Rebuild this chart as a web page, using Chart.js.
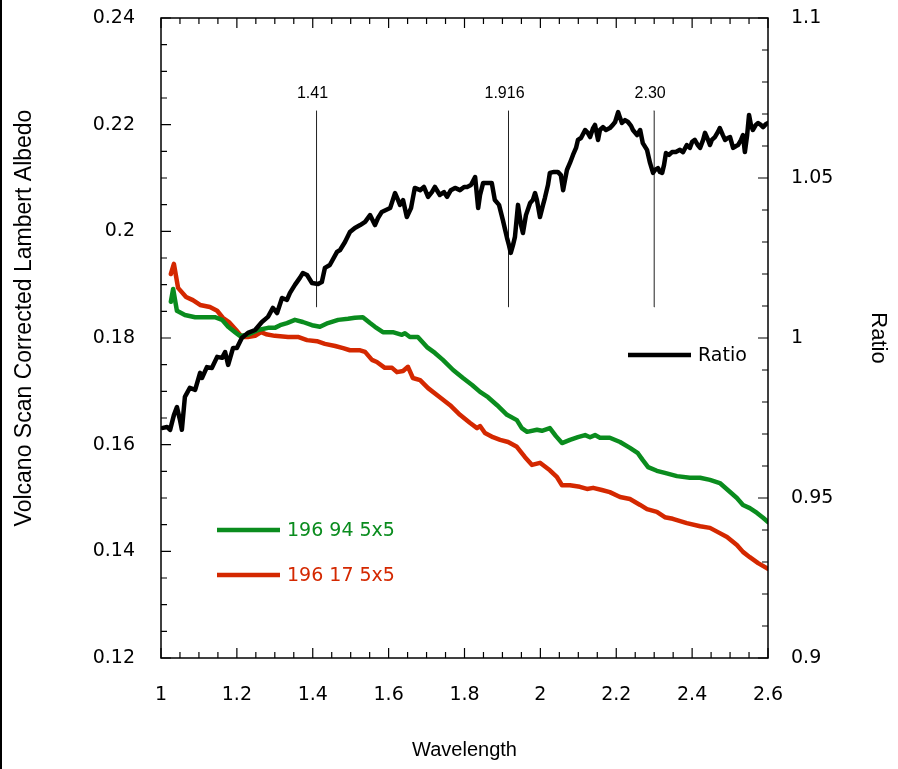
<!DOCTYPE html>
<html>
<head>
<meta charset="utf-8">
<script src="https://cdn.jsdelivr.net/npm/chart.js@4.4.1/dist/chart.umd.min.js"></script>
<style>
  html, body { margin: 0; padding: 0; background: #fff; }
</style>
</head>
<body>
<canvas id="myChart" width="898" height="769"></canvas>
<script>
// ratio curve (right axis)
const ratioX = [
  1.005,1.016,1.024,1.034,1.042,1.050,1.055,1.063,1.076,1.090,
  1.103,1.108,1.121,1.134,1.148,1.161,1.169,1.177,1.190,1.200,
  1.213,1.229,1.248,1.266,1.282,1.295,1.306,1.319,1.332,1.340,
  1.353,1.366,1.374,1.385,1.398,1.414,1.424,1.432,1.445,1.464,
  1.472,1.485,1.498,1.511,1.525,1.538,1.551,1.564,1.572,1.582,
  1.593,1.604,1.617,1.625,1.630,1.638,1.648,1.659,1.669,1.683,
  1.693,1.704,1.714,1.722,1.735,1.746,1.754,1.764,1.775,1.788,
  1.799,1.807,1.817,1.828,1.836,1.841,1.849,1.862,1.872,1.880,
  1.891,1.901,1.912,1.917,1.922,1.928,1.933,1.941,1.949,1.954,
  1.962,1.973,1.980,1.986,1.991,1.999,2.007,2.012,2.020,2.025,
  2.036,2.046,2.054,2.060,2.065,2.070,2.078,2.086,2.094,2.099,
  2.107,2.118,2.125,2.131,2.139,2.144,2.152,2.157,2.165,2.173,
  2.183,2.191,2.197,2.205,2.210,2.215,2.223,2.231,2.239,2.244,
  2.255,2.263,2.270,2.281,2.289,2.297,2.302,2.310,2.315,2.321,
  2.326,2.331,2.339,2.347,2.357,2.368,2.376,2.386,2.394,2.400,
  2.407,2.415,2.421,2.429,2.434,2.442,2.447,2.452,2.460,2.468,
  2.473,2.481,2.487,2.494,2.500,2.508,2.516,2.521,2.529,2.534,
  2.539,2.545,2.550,2.555,2.560,2.568,2.574,2.581,2.587,2.595,2.600
];
const ratioY = [
  0.9719,0.9722,0.9713,0.9759,0.9784,0.9744,0.9713,0.9816,0.9844,0.9838,
  0.9891,0.9875,0.9909,0.9906,0.9941,0.9938,0.9956,0.9916,0.9969,0.9969,
  1.0000,1.0016,1.0025,1.0050,1.0066,1.0094,1.0078,1.0125,1.0119,1.0141,
  1.0166,1.0188,1.0203,1.0197,1.0172,1.0169,1.0175,1.0219,1.0228,1.0269,
  1.0275,1.0300,1.0331,1.0344,1.0353,1.0363,1.0384,1.0353,1.0375,1.0394,
  1.0400,1.0406,1.0453,1.0431,1.0416,1.0431,1.0378,1.0406,1.0469,1.0462,
  1.0472,1.0441,1.0456,1.0472,1.0447,1.0456,1.0441,1.0462,1.0469,1.0462,
  1.0472,1.0472,1.0478,1.0503,1.0406,1.0447,1.0484,1.0484,1.0484,1.0431,
  1.0416,1.0369,1.0313,1.0291,1.0266,1.0291,1.0316,1.0416,1.0353,1.0328,
  1.0384,1.0422,1.0431,1.0453,1.0431,1.0378,1.0416,1.0438,1.0478,1.0516,
  1.0519,1.0519,1.0509,1.0462,1.0494,1.0525,1.0547,1.0572,1.0594,1.0619,
  1.0625,1.0650,1.0641,1.0628,1.0656,1.0666,1.0619,1.0650,1.0659,1.0650,
  1.0656,1.0666,1.0675,1.0706,1.0688,1.0672,1.0681,1.0675,1.0663,1.0650,
  1.0634,1.0650,1.0609,1.0588,1.0547,1.0516,1.0525,1.0531,1.0519,1.0516,
  1.0541,1.0578,1.0572,1.0581,1.0581,1.0588,1.0581,1.0603,1.0594,1.0613,
  1.0619,1.0603,1.0594,1.0619,1.0641,1.0619,1.0603,1.0619,1.0628,1.0644,
  1.0656,1.0634,1.0619,1.0625,1.0628,1.0594,1.0600,1.0603,1.0619,1.0634,
  1.0581,1.0634,1.0697,1.0666,1.0650,1.0666,1.0672,1.0666,1.0659,1.0669,1.0672
];

// 196 94 5x5 (left axis)
const greenX = [
  1.026,1.032,1.042,1.063,1.090,1.116,1.142,1.161,1.177,1.195,
  1.208,1.229,1.256,1.282,1.300,1.314,1.332,1.353,1.374,1.398,
  1.419,1.440,1.467,1.493,1.511,1.532,1.551,1.564,1.585,1.611,
  1.635,1.643,1.656,1.677,1.701,1.722,1.743,1.770,1.796,1.820,
  1.841,1.862,1.886,1.912,1.938,1.951,1.965,1.991,2.004,2.025,
  2.041,2.057,2.078,2.099,2.118,2.131,2.144,2.157,2.183,2.210,
  2.236,2.257,2.270,2.284,2.307,2.328,2.360,2.394,2.421,2.447,
  2.473,2.494,2.518,2.534,2.552,2.571,2.587,2.600
];
const greenY = [
  0.1868,0.1892,0.1851,0.1843,0.1839,0.1839,0.1839,0.1834,0.1821,0.1811,
  0.1804,0.1806,0.1815,0.1819,0.1819,0.1824,0.1828,0.1834,0.1830,0.1824,
  0.1821,0.1828,0.1834,0.1836,0.1838,0.1839,0.1828,0.1821,0.1811,0.1811,
  0.1806,0.1809,0.1802,0.1802,0.1783,0.1772,0.1759,0.1740,0.1725,0.1712,
  0.1699,0.1689,0.1674,0.1656,0.1646,0.1631,0.1624,0.1628,0.1626,0.1631,
  0.1616,0.1603,0.1609,0.1614,0.1618,0.1614,0.1618,0.1613,0.1613,0.1605,
  0.1594,0.1584,0.1571,0.1558,0.1551,0.1547,0.1541,0.1538,0.1538,0.1534,
  0.1528,0.1515,0.1500,0.1487,0.1481,0.1472,0.1463,0.1455
];

// 196 17 5x5 (left axis)
const redX = [
  1.026,1.034,1.045,1.066,1.084,1.103,1.129,1.148,1.163,1.179,
  1.198,1.213,1.229,1.248,1.264,1.277,1.300,1.335,1.361,1.385,
  1.411,1.432,1.459,1.480,1.498,1.525,1.538,1.556,1.569,1.590,
  1.609,1.622,1.638,1.651,1.664,1.683,1.704,1.735,1.762,1.788,
  1.814,1.833,1.841,1.854,1.875,1.894,1.915,1.938,1.959,1.978,
  1.999,2.025,2.044,2.057,2.078,2.104,2.123,2.139,2.162,2.183,
  2.210,2.236,2.263,2.281,2.307,2.328,2.349,2.386,2.421,2.447,
  2.468,2.492,2.518,2.534,2.552,2.574,2.600
];
const redY = [
  0.1920,0.1939,0.1894,0.1877,0.1871,0.1862,0.1858,0.1851,0.1838,0.1830,
  0.1815,0.1802,0.1802,0.1804,0.1811,0.1807,0.1804,0.1802,0.1802,0.1796,
  0.1794,0.1789,0.1785,0.1781,0.1777,0.1777,0.1774,0.1759,0.1755,0.1744,
  0.1744,0.1736,0.1738,0.1746,0.1725,0.1721,0.1706,0.1689,0.1674,0.1656,
  0.1641,0.1631,0.1635,0.1622,0.1614,0.1609,0.1605,0.1596,0.1577,0.1562,
  0.1566,0.1552,0.1539,0.1524,0.1524,0.1521,0.1517,0.1519,0.1515,0.1511,
  0.1502,0.1498,0.1487,0.1479,0.1474,0.1464,0.1461,0.1453,0.1447,0.1444,
  0.1436,0.1427,0.1412,0.1399,0.1389,0.1378,0.1367
];

// absorption band markers
const markerX = [1.41, 1.916, 2.30];
const markerLabels = ['1.41', '1.916', '2.30'];
const markerTop = 1.071;
const markerBottom = 1.0097;

const GREEN = '#0a8c1e';
const RED = '#d42800';
const TICK_FONT = { family: 'DejaVu Sans', size: 19 };

const fmt = v => String(+Number(v).toFixed(3));
const pts = (xs, ys) => xs.map((x, i) => ({ x: x, y: ys[i] }));

const markerSets = markerX.map(m => ({
    data: [{ x: m, y: markerBottom }, { x: m, y: markerTop }],
    yAxisID: 'y1',
    borderColor: '#222',
    borderWidth: 1,
    pointRadius: 0
}));

// frame, inward ticks, legends and texts
const decor = {
    id: 'decor',
    afterDatasetsDraw(chart) {
        const ctx = chart.ctx;
        const a = chart.chartArea;
        const sx = chart.scales.x, sy = chart.scales.y, sr = chart.scales.y1;
        ctx.save();

        ctx.strokeStyle = '#000';
        ctx.lineWidth = 1.5;
        ctx.strokeRect(a.left, a.top, a.right - a.left, a.bottom - a.top);

        ctx.lineWidth = 1.2;
        ctx.beginPath();
        for (let i = 0; i <= 32; i++) {
            const p = sx.getPixelForValue(1 + i * 0.05);
            const len = i % 4 === 0 ? 10 : 6;
            ctx.moveTo(p, a.bottom); ctx.lineTo(p, a.bottom - len);
            ctx.moveTo(p, a.top); ctx.lineTo(p, a.top + len);
        }
        for (let i = 0; i <= 24; i++) {
            const p = sy.getPixelForValue(0.12 + i * 0.005);
            const len = i % 4 === 0 ? 10 : 6;
            ctx.moveTo(a.left, p); ctx.lineTo(a.left + len, p);
        }
        for (let i = 0; i <= 20; i++) {
            const p = sr.getPixelForValue(0.9 + i * 0.01);
            const len = i % 5 === 0 ? 10 : 6;
            ctx.moveTo(a.right, p); ctx.lineTo(a.right - len, p);
        }
        ctx.stroke();

        // page edge line
        ctx.lineWidth = 2;
        ctx.beginPath();
        ctx.moveTo(1, 0); ctx.lineTo(1, chart.height);
        ctx.stroke();

        // marker labels
        ctx.fillStyle = '#000';
        ctx.font = '16px "Liberation Sans"';
        ctx.textAlign = 'center';
        ctx.textBaseline = 'middle';
        markerX.forEach((m, i) => {
            ctx.fillText(markerLabels[i], sx.getPixelForValue(m) - 4, sr.getPixelForValue(markerTop) - 17);
        });

        // legends
        const legend = (x, y, color, text) => {
            ctx.strokeStyle = color;
            ctx.lineWidth = 4.5;
            ctx.beginPath();
            ctx.moveTo(x, y); ctx.lineTo(x + 63, y);
            ctx.stroke();
            ctx.fillStyle = color;
            ctx.font = '19px "DejaVu Sans"';
            ctx.textAlign = 'left';
            ctx.fillText(text, x + 70, y + 1);
        };
        legend(217, 530, GREEN, '196 94 5x5');
        legend(217, 575, RED, '196 17 5x5');
        legend(628, 355, '#000', 'Ratio');

        // left axis title
        ctx.fillStyle = '#000';
        ctx.font = '23px "Liberation Sans"';
        ctx.translate(25, 318);
        ctx.rotate(-Math.PI / 2);
        ctx.textAlign = 'center';
        ctx.fillText('Volcano Scan Corrected Lambert Albedo', 0, 0);
        ctx.restore();
    }
};

const ctx = document.getElementById('myChart').getContext('2d');
new Chart(ctx, {
    type: 'line',
    data: {
        datasets: [
            {
                label: 'Ratio',
                data: pts(ratioX, ratioY),
                yAxisID: 'y1',
                borderColor: '#000',
                borderWidth: 4.5,
                pointRadius: 0
            },
            {
                label: '196 94 5x5',
                data: pts(greenX, greenY),
                yAxisID: 'y',
                borderColor: GREEN,
                borderWidth: 4.5,
                pointRadius: 0
            },
            {
                label: '196 17 5x5',
                data: pts(redX, redY),
                yAxisID: 'y',
                borderColor: RED,
                borderWidth: 4.5,
                pointRadius: 0
            },
            ...markerSets
        ]
    },
    options: {
        responsive: false,
        animation: false,
        devicePixelRatio: 1,
        layout: { padding: { top: 18, left: 0, right: 0, bottom: 0 } },
        plugins: {
            legend: { display: false },
            tooltip: { enabled: false }
        },
        elements: { line: { tension: 0, borderJoinStyle: 'round', borderCapStyle: 'round' } },
        scales: {
            x: {
                type: 'linear',
                position: 'bottom',
                min: 1,
                max: 2.6,
                ticks: { stepSize: 0.2, callback: fmt, font: TICK_FONT, color: '#000', padding: 18, maxRotation: 0 },
                grid: { display: false },
                border: { display: false },
                title: {
                    display: true,
                    text: 'Wavelength',
                    color: '#000',
                    font: { family: 'Liberation Sans', size: 20 },
                    padding: { top: 0, bottom: 7 }
                },
                afterFit(s) { s.height = 111; s.paddingLeft = 0; s.paddingRight = 0; }
            },
            y: {
                position: 'left',
                min: 0.12,
                max: 0.24,
                ticks: { stepSize: 0.02, callback: fmt, font: TICK_FONT, color: '#000', padding: 18 },
                grid: { display: false },
                border: { display: false },
                afterFit(s) { s.width = 161; s.paddingTop = 0; s.paddingBottom = 0; }
            },
            y1: {
                position: 'right',
                min: 0.9,
                max: 1.1,
                ticks: { stepSize: 0.05, callback: fmt, font: TICK_FONT, color: '#000', padding: 15 },
                grid: { display: false },
                border: { display: false },
                title: {
                    display: true,
                    text: 'Ratio',
                    color: '#000',
                    font: { family: 'Liberation Sans', size: 22 },
                    padding: { top: 7, bottom: 0 }
                },
                afterFit(s) { s.width = 130; s.paddingTop = 0; s.paddingBottom = 0; }
            }
        }
    },
    plugins: [decor]
});
</script>
</body>
</html>
